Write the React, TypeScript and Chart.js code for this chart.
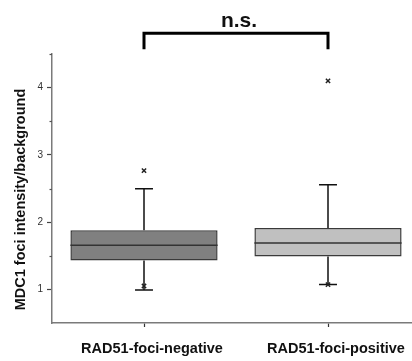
import React, { useEffect, useRef } from "react";
import { Chart, registerables } from "chart.js";

Chart.register(...registerables);

// ---- data ----
const categories = ["RAD51-foci-negative", "RAD51-foci-positive"];
const q1Values = [1.43, 1.49];
const medianValues = [1.656, 1.69];
const q3Values = [1.878, 1.913];
const whiskerLow = [0.99, 1.074];
const whiskerHigh = [2.496, 2.556];
const outlierValues = [
  [2.767, 1.05],
  [4.1, 1.07],
];
const boxColors = ["#808080", "#c0c0c0"];
const yMajorTicks = [1, 2, 3, 4];
const yMinorTicks = [1.5, 2.5, 3.5, 4.5];
const yTitle = "MDC1 foci intensity/background";
const significanceLabel = "n.s.";
const bracketTop = 4.81;
const bracketLegEnd = 4.57;

const FONT = '"Liberation Sans", Arial, Helvetica, sans-serif';

const extrasPlugin = {
  id: "boxExtras",
  beforeDatasetsDraw(chart: any) {
    const xs = chart.scales.x;
    const ys = chart.scales.y;
    const meta = chart.getDatasetMeta(0);
    const ctx = chart.ctx;
    ctx.save();
    ctx.strokeStyle = "#111";
    ctx.lineWidth = 1.5;
    categories.forEach((_, i) => {
      const x = xs.getPixelForValue(i + 1);
      const bw = meta.data[i] ? meta.data[i].width : 140;
      const half = bw * 0.061;
      const pairs = [
        [q3Values[i], whiskerHigh[i]],
        [q1Values[i], whiskerLow[i]],
      ];
      pairs.forEach(([from, to]) => {
        const y0 = ys.getPixelForValue(from);
        const y1 = ys.getPixelForValue(to);
        ctx.beginPath();
        ctx.moveTo(x, y0);
        ctx.lineTo(x, y1);
        ctx.moveTo(x - half, y1);
        ctx.lineTo(x + half, y1);
        ctx.stroke();
      });
    });
    ctx.restore();
  },
  afterDatasetDraw(chart: any, args: any) {
    if (args.index !== 0) return;
    const ys = chart.scales.y;
    const meta = chart.getDatasetMeta(0);
    const ctx = chart.ctx;
    ctx.save();
    ctx.strokeStyle = "#333";
    ctx.lineWidth = 1.5;
    meta.data.forEach((bar: any, i: number) => {
      const y = ys.getPixelForValue(medianValues[i]);
      ctx.beginPath();
      ctx.moveTo(bar.x - bar.width / 2, y);
      ctx.lineTo(bar.x + bar.width / 2, y);
      ctx.stroke();
    });
    ctx.restore();
  },
  afterDraw(chart: any) {
    const xs = chart.scales.x;
    const ys = chart.scales.y;
    const ctx = chart.ctx;
    const area = chart.chartArea;
    ctx.save();
    // minor y ticks
    ctx.strokeStyle = "#555";
    ctx.lineWidth = 1.2;
    yMinorTicks.forEach((v) => {
      const y = Math.round(ys.getPixelForValue(v)) + 0.5;
      ctx.beginPath();
      ctx.moveTo(area.left - 2.5, y);
      ctx.lineTo(area.left, y);
      ctx.stroke();
    });
    // significance bracket
    const xa = xs.getPixelForValue(1);
    const xb = xs.getPixelForValue(2);
    const yt = ys.getPixelForValue(bracketTop);
    const yl = ys.getPixelForValue(bracketLegEnd);
    ctx.strokeStyle = "#000";
    ctx.lineWidth = 3;
    ctx.lineJoin = "miter";
    ctx.beginPath();
    ctx.moveTo(xa, yl);
    ctx.lineTo(xa, yt);
    ctx.lineTo(xb, yt);
    ctx.lineTo(xb, yl);
    ctx.stroke();
    ctx.fillStyle = "#111";
    ctx.font = `bold 21px ${FONT}`;
    ctx.textAlign = "center";
    ctx.textBaseline = "alphabetic";
    ctx.fillText(significanceLabel, (xa + xb) / 2 + 3, yt - 6);
    // y title
    ctx.translate(20.5, (area.top + area.bottom) / 2 + 11);
    ctx.rotate(-Math.PI / 2);
    ctx.font = `bold 14.5px ${FONT}`;
    ctx.textBaseline = "middle";
    ctx.fillText(yTitle, 0, 0);
    ctx.restore();
  },
};

export default function App() {
  const ref = useRef<HTMLCanvasElement | null>(null);

  useEffect(() => {
    if (!ref.current) return;
    const chart = new Chart(ref.current, {
      type: "bar",
      data: {
        datasets: [
          {
            type: "bar",
            data: categories.map((_, i) => ({ x: i + 1, y: [q1Values[i], q3Values[i]] })) as any,
            backgroundColor: boxColors,
            borderColor: "#3a3a3a",
            borderWidth: 1.5,
            borderSkipped: false,
            categoryPercentage: 0.8,
            barPercentage: 1,
            order: 2,
          },
          {
            type: "scatter",
            data: outlierValues.flatMap((vals, i) => vals.map((v) => ({ x: i + 1, y: v }))) as any,
            pointStyle: "crossRot",
            pointRadius: 3,
            pointBorderColor: "#222",
            pointBorderWidth: 1.5,
            showLine: false,
            order: 1,
          } as any,
        ],
      },
      options: {
        animation: false,
        responsive: true,
        maintainAspectRatio: false,
        layout: { autoPadding: false, padding: { top: 54, left: 0, right: 0, bottom: 0 } },
        plugins: { legend: { display: false }, tooltip: { enabled: false } },
        scales: {
          x: {
            type: "linear",
            bounds: "data",
            offset: false,
            min: 0.5,
            max: 2.4565,
            afterBuildTicks: (axis: any) => {
              axis.ticks = categories.map((_, i) => ({ value: i + 1 }));
            },
            afterFit: (axis: any) => {
              axis.height = 38;
              axis.paddingLeft = 0;
              axis.paddingRight = 0;
            },
            ticks: {
              callback: (_v: any, i: number) => categories[i],
              font: { family: FONT, size: 14.5, weight: "bold" },
              color: "#111",
              padding: 13,
              labelOffset: 8,
              maxRotation: 0,
              autoSkip: false,
            },
            grid: {
              offset: false,
              drawOnChartArea: false,
              drawTicks: true,
              tickLength: 4,
              tickColor: "#333",
              tickWidth: 1.2,
            },
            border: { color: "#7a7a7a", width: 1.5 },
          },
          y: {
            type: "linear",
            bounds: "data",
            min: 0.5,
            max: 4.5,
            afterBuildTicks: (axis: any) => {
              axis.ticks = yMajorTicks.map((v) => ({ value: v }));
            },
            afterFit: (axis: any) => {
              axis.width = 52;
              axis.paddingTop = 0;
              axis.paddingBottom = 0;
            },
            ticks: {
              font: { family: FONT, size: 10 },
              color: "#333",
              padding: 4,
            },
            grid: {
              drawOnChartArea: false,
              drawTicks: true,
              tickLength: 5,
              tickColor: "#444",
              tickWidth: 1.2,
            },
            border: { color: "#7a7a7a", width: 1.5 },
          },
        },
      },
      plugins: [extrasPlugin],
    } as any);
    return () => chart.destroy();
  }, []);

  return (
    <div style={{ position: "fixed", left: 0, top: 0, width: 412, height: 361, background: "#fff" }}>
      <canvas ref={ref} />
    </div>
  );
}
